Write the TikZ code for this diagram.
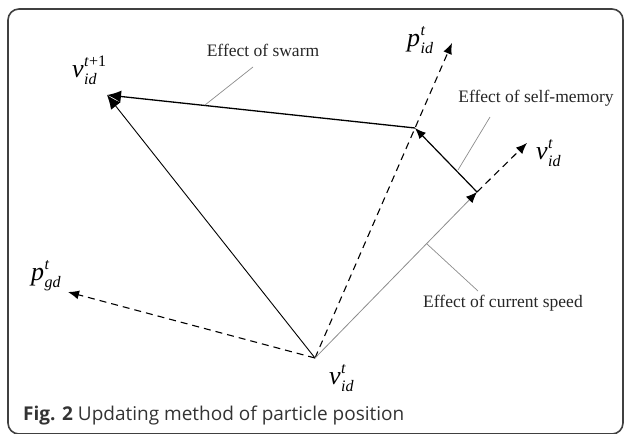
\documentclass[tikz,border=0pt]{standalone}
\usepackage{fontspec}
\setmainfont{Liberation Serif}
\newfontfamily\capfont{Open Sans}
\usetikzlibrary{arrows.meta}
\newcommand\subsz{\fontsize{16}{16}\selectfont}
\newcommand\vlab[3]{\textit{#1}\kern0.5pt\rlap{\raisebox{10.5pt}{\subsz #3}}\raisebox{-7.5pt}{\subsz\textit{#2}}}
\tikzset{
  lbl/.style={font=\fontsize{26}{30}\selectfont, inner sep=0pt, anchor=base west},
  eff/.style={font=\fontsize{17.5}{20}\selectfont, inner sep=0pt, text=black!85},
  lead/.style={draw=black!45, line width=0.7pt},
  tipA/.style={-{Latex[length=11pt,width=9pt]}},
  tipB/.style={-{Latex[length=14pt,width=12pt]}},
  dsh/.style={dashed, dash pattern=on 7pt off 5pt, line width=1.1pt},
}
\begin{document}
\begin{tikzpicture}[x=1pt,y=-1pt]
\useasboundingbox (0,0) rectangle (625,434);
\draw[black!75, line width=1.6pt, rounded corners=11pt] (8,9) rectangle (623,434);
% points
\coordinate (O) at (315,358);
\coordinate (Vt1) at (107,95);
\coordinate (J) at (415,128);
\coordinate (Pid) at (452,43);
\coordinate (S) at (477,192);
\coordinate (Vid) at (527,143);
\coordinate (Pgd) at (68,292);
% vectors
\draw[line width=0.9pt, tipB] (O) -- (Vt1);
\draw[line width=1.3pt, tipB] (J) -- (Vt1);
\draw[dsh, tipA] (O) -- (Pid);
\draw[dsh, tipA] (O) -- (Pgd);
\draw[draw=black!45, line width=0.8pt, -{Latex[length=11pt,width=9pt,color=black]}] (O) -- (S);
\draw[line width=1.2pt, tipA] (S) -- (J);
\draw[dsh, tipA] (S) -- (Vid);
% leaders
\coordinate (l1a) at (253,67); \coordinate (l1b) at (205,105);
\coordinate (l2a) at (490,117); \coordinate (l2b) at (458,170);
\coordinate (l3a) at (427,244); \coordinate (l3b) at (478,291);
\draw[lead] (l1a) -- (l1b);
\draw[lead] (l2a) -- (l2b);
\draw[lead] (l3a) -- (l3b);
% effect labels
\node[eff] (es) at (263,50) {Effect of swarm};
\node[eff] (em) at (536,98) {Effect of self-memory};
\node[eff] (ec) at (503,303) {Effect of current speed};
% vector labels
\node[lbl] (lv1) at (72,77) {\vlab{v}{id}{\textit{t}+1}};
\node[lbl] (lp) at (407,46) {\vlab{p}{id}{\textit{t}}};
\node[lbl] (lv2) at (536,159) {\vlab{v}{id}{\textit{t}}};
\node[lbl] (lpg) at (31,280) {\vlab{p}{gd}{\textit{t}}};
\node[lbl] (lv0) at (329,384) {\vlab{v}{id}{\textit{t}}};
% caption
\node[anchor=base west, inner sep=0pt, font=\capfont\fontsize{19}{22}\selectfont, text=black!80] (cap) at (23,420) {\textbf{Fig. 2} Updating method of particle position};
\end{tikzpicture}
\end{document}
